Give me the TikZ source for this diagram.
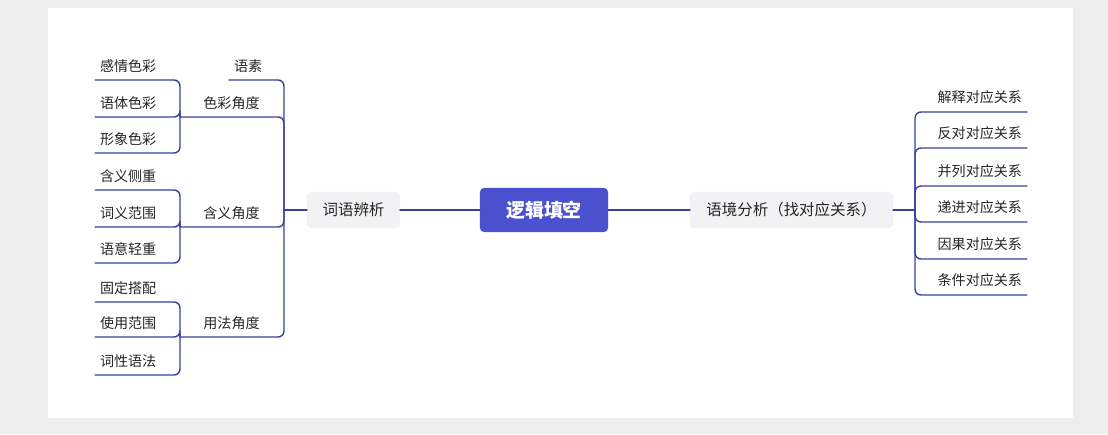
\documentclass[tikz,border=0pt]{standalone}
\usepackage{fontspec}
\setmainfont{Noto Sans CJK SC}
\definecolor{linecol}{HTML}{3A3F9E}
\definecolor{rootcol}{HTML}{4B50CF}
\definecolor{boxcol}{HTML}{F2F2F4}
\definecolor{txtcol}{HTML}{262626}
\definecolor{paper}{HTML}{EDEDED}
\tikzset{
  conn/.style={draw=linecol, line width=1pt, rounded corners=.15cm},
  leafL/.style={anchor=south west, text width=1.875cm, align=left, inner xsep=.125cm, inner ysep=0pt, outer sep=0pt, minimum height=.7cm, font=\fontsize{10}{12}\selectfont, text=txtcol},
  leafR/.style={anchor=south east, text width=2.55cm, align=right, inner xsep=.125cm, inner ysep=0pt, outer sep=0pt, minimum height=.75cm, font=\fontsize{10}{12}\selectfont, text=txtcol},
  midbox/.style={anchor=south west, minimum width=2.575cm, inner xsep=0pt, inner ysep=0pt, outer sep=0pt, minimum height=.7cm, font=\fontsize{10}{12}\selectfont, text=txtcol},
  subbox/.style={fill=boxcol, rounded corners=.1cm, minimum height=.9cm, outer sep=0pt, font=\fontsize{11}{13}\selectfont, text=txtcol},
  rootbox/.style={fill=rootcol, rounded corners=.1cm, minimum width=3.2cm, minimum height=1.1cm, outer sep=0pt, font=\fontsize{13.5}{15}\selectfont\bfseries, text=white}
}
\begin{document}
\begin{tikzpicture}[x=.025cm, y=-.025cm, line join=round, line cap=round]
% page and card
\fill[paper] (0,0) rectangle (1108,434);
\fill[white] (48,8) rectangle (1073,418);
\useasboundingbox (0,0) rectangle (1108,434);

% centre
\node[rootbox] (root) at (544,210) {逻辑填空};
\node[subbox, minimum width=2.325cm] (cy) at (353.5,210) {词语辨析};
\node[subbox, minimum width=5.075cm] (yj) at (791.5,210) {语境分析（找对应关系）};
\draw[conn] (cy.east) -- (root.west) (root.east) -- (yj.west);

% left branch
\coordinate (jL) at (284,210);
\coordinate (jR) at (915,210);
\draw[conn] (cy.west) -- (jL) (yj.east) -- (jR);

\node[leafL, text width=1.125cm] (ys) at (229,80) {语素};
\node[midbox] (sc) at (180,117) {色彩角度};
\node[midbox] (hy) at (180,227) {含义角度};
\node[midbox] (yf) at (180,337) {用法角度};
\foreach \n in {ys,sc,hy,yf}
  \draw[conn] (jL) |- (\n.south west);

% leaves
\node[leafL] (sc1) at (95,80) {感情色彩};
\node[leafL] (sc2) at (95,117) {语体色彩};
\node[leafL] (sc3) at (95,153) {形象色彩};
\node[leafL] (hy1) at (95,190) {含义侧重};
\node[leafL] (hy2) at (95,227) {词义范围};
\node[leafL] (hy3) at (95,263) {语意轻重};
\node[leafL] (yf1) at (95,302) {固定搭配};
\node[leafL] (yf2) at (95,337) {使用范围};
\node[leafL] (yf3) at (95,375) {词性语法};
\foreach \p/\c in {sc/sc1,sc/sc2,sc/sc3,hy/hy1,hy/hy2,hy/hy3,yf/yf1,yf/yf2,yf/yf3}
  \draw[conn] (\p.south west) |- (\c.south west);

% right branch
\node[leafR] (r1) at (1027,112) {解释对应关系};
\node[leafR] (r2) at (1027,148) {反对对应关系};
\node[leafR] (r3) at (1027,186) {并列对应关系};
\node[leafR] (r4) at (1027,222) {递进对应关系};
\node[leafR] (r5) at (1027,259) {因果对应关系};
\node[leafR] (r6) at (1027,295) {条件对应关系};
\foreach \n in {r1,r2,r3,r4,r5,r6}
  \draw[conn] (jR) |- (\n.south east);
\end{tikzpicture}
\end{document}
